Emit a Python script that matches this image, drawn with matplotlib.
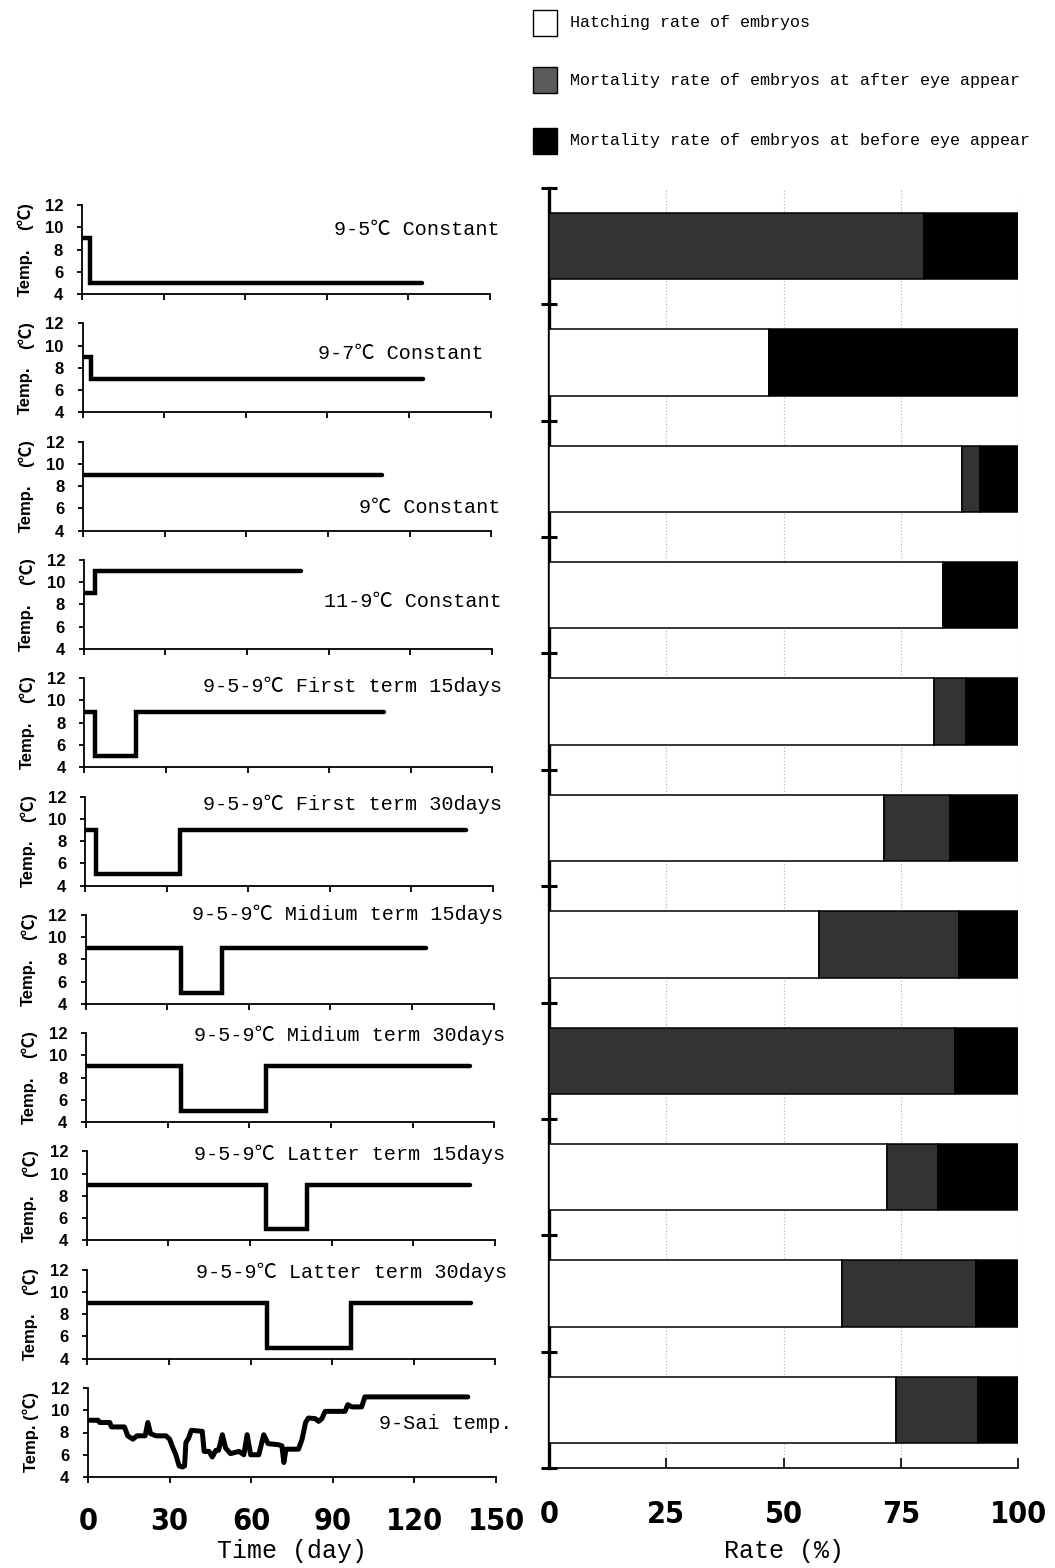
import matplotlib
matplotlib.use("Agg")
import matplotlib.pyplot as plt
from matplotlib import font_manager as fm
from matplotlib.font_manager import FontProperties
from matplotlib.patches import Rectangle

# ---------------- data ----------------
panel_titles = ["9-5℃ Constant", "9-7℃ Constant", "9℃ Constant", "11-9℃ Constant",
                "9-5-9℃ First term 15days", "9-5-9℃ First term 30days",
                "9-5-9℃ Midium term 15days", "9-5-9℃ Midium term 30days",
                "9-5-9℃ Latter term 15days", "9-5-9℃ Latter term 30days",
                "9-Sai temp."]

# step schedules: day where each level starts (last value = end day), temperature levels
step_days = [
    [0, 3, 125],
    [0, 3, 125],
    [0, 110],
    [0, 4, 80],
    [0, 4, 19, 110],
    [0, 4, 35, 140],
    [0, 35, 50, 125],
    [0, 35, 66, 141],
    [0, 66, 81, 141],
    [0, 66, 97, 141],
]
step_temps = [
    [9, 5, 5],
    [9, 7, 7],
    [9, 9],
    [9, 11, 11],
    [9, 5, 9, 9],
    [9, 5, 9, 9],
    [9, 5, 9, 9],
    [9, 5, 9, 9],
    [9, 5, 9, 9],
    [9, 5, 9, 9],
]

# natural (Sai) temperature record
sai_day = [0, 3.7, 4.3, 8, 8.6, 13.4, 14.6, 16.5, 18, 21, 22, 23, 25, 28.7, 30, 31, 32.3,
           33.5, 34.8, 35.5, 36, 37, 38, 42, 42.7, 44.5, 45.7, 47, 48, 49.4, 50.6, 52.4, 55.5,
           57.3, 58.5, 59.8, 62.8, 64.6, 66.2, 70, 71.3, 72, 72.8, 77.4, 78.7, 80, 81, 83.5,
           84.8, 86, 87.2, 94.5, 95.5, 97, 100.6, 101.8, 139.6]
sai_temp = [9.1, 9.1, 8.9, 8.9, 8.5, 8.5, 7.7, 7.4, 7.7, 7.7, 8.9, 7.9, 7.7, 7.7, 7.4, 6.75, 6.0,
            5.0, 4.9, 5.0, 7.1, 7.5, 8.2, 8.1, 6.3, 6.3, 5.8, 6.4, 6.4, 7.8, 6.6, 6.1, 6.3,
            6.0, 7.8, 6.0, 6.0, 7.8, 7.0, 6.9, 6.8, 5.3, 6.5, 6.5, 7.4, 8.9, 9.3, 9.25,
            9.0, 9.25, 9.9, 9.9, 10.5, 10.3, 10.3, 11.2, 11.2]

# rates (%)
hatching = [0, 47, 88, 84, 82, 71.5, 57.5, 0, 72, 62.5, 74]
mort_after = [80, 0, 4, 0, 7, 14, 30, 86.5, 11, 28.5, 17.5]
mort_before = [20, 53, 8, 16, 11, 14.5, 12.5, 13.5, 17, 9, 8.5]

legend_labels = ["Hatching rate of embryos",
                 "Mortality rate of embryos at after eye appear",
                 "Mortality rate of embryos at before eye appear"]

temp_ticks = [4, 6, 8, 10, 12]
day_ticks = [0, 30, 60, 90, 120, 150]
rate_ticks = [0, 25, 50, 75, 100]

# label positions (pixel right edge, temp) for panel titles
title_pos_px = [(500, 9.84), (484, 9.33), (500, 6.12), (502, 8.22), (502, 11.3), (502, 11.3),
                (503, 12.0), (505, 11.8), (505, 11.7), (507, 11.8), (512, 8.85)]

# ---------------- fonts ----------------
names = {f.name for f in fm.fontManager.ttflist}
SANS = "Liberation Sans" if "Liberation Sans" in names else "DejaVu Sans"
MONO = "Liberation Mono" if "Liberation Mono" in names else "DejaVu Sans Mono"
CJK = "Noto Sans CJK JP"
FAM_MONO = [MONO, CJK, "DejaVu Sans"]
FAM_SANS = [SANS, CJK, "DejaVu Sans"]


def find_condensed_bold():
    cands = []
    for f in fm.fontManager.ttflist:
        nm = (f.name + " " + f.fname).lower()
        cond = (str(f.stretch).lower() in ("condensed", "semi-condensed", "extra-condensed",
                                           "ultra-condensed")
                or "narrow" in nm or "condensed" in nm)
        if not cond:
            continue
        w = f.weight if isinstance(f.weight, int) else (700 if "bold" in str(f.weight) else 400)
        if "italic" in nm or "oblique" in nm or f.style != "normal":
            continue
        cands.append((abs(w - 700), f.fname))
    cands.sort()
    return cands[0][1] if cands else None


cond_file = find_condensed_bold()
if cond_file:
    BIGNUM = FontProperties(fname=cond_file, size=22)
else:
    BIGNUM = FontProperties(family=SANS, weight="bold", size=19)

BAR_GRAY = "#333333"
LEG_GRAY = "#5a5a5a"

W, H = 1055, 1568
fig = plt.figure(figsize=(W / 100, H / 100), dpi=100)

# ---------------- left panels ----------------
PW, PH = 408, 89
for k in range(11):
    left = 82 + 0.6 * k
    top = 205 + 118.3 * k
    ax = fig.add_axes([left / W, 1 - (top + PH) / H, PW / W, PH / H])
    if k < 10:
        ax.plot(step_days[k], step_temps[k], drawstyle="steps-post", color="black",
                lw=3.2, solid_joinstyle="miter", solid_capstyle="round")
    else:
        ax.plot(sai_day, sai_temp, color="black", lw=3.6, solid_joinstyle="round",
                solid_capstyle="round")
    ax.set_xlim(0, 150)
    ax.set_ylim(4, 12)
    for s in ("top", "right"):
        ax.spines[s].set_visible(False)
    for s in ("left", "bottom"):
        ax.spines[s].set_linewidth(1.3)
    ax.set_yticks(temp_ticks)
    ax.set_xticks(day_ticks)
    ax.tick_params(axis="y", direction="out", length=3.5, width=1.3, pad=10)
    ax.tick_params(axis="x", direction="out", length=4.5, width=1.3)
    for lab in ax.get_yticklabels():
        lab.set_fontfamily(FAM_SANS)
        lab.set_fontweight("bold")
        lab.set_fontsize(12)
    if k == 10:
        ax.tick_params(axis="x", pad=17)
        ax.set_xticklabels([str(v) for v in day_ticks])
        for lab in ax.get_xticklabels():
            lab.set_fontproperties(BIGNUM)
        ax.set_xlabel("Time (day)", fontfamily=FAM_MONO, fontsize=18, labelpad=2)
        ax.text(-0.14, 0.5, "Temp. (℃)", transform=ax.transAxes, rotation=90,
                ha="center", va="center", fontfamily=FAM_SANS, fontweight="bold",
                fontsize=12)
    else:
        ax.set_xticklabels([])
        ax.text(-0.14, -0.02, "Temp.", transform=ax.transAxes, rotation=90,
                ha="center", va="bottom", fontfamily=FAM_SANS, fontweight="bold",
                fontsize=12)
        ax.text(-0.14, 1.03, "(℃)", transform=ax.transAxes, rotation=90,
                ha="center", va="top", fontfamily=FAM_SANS, fontweight="bold",
                fontsize=12)
    px, ty = title_pos_px[k]
    tx = (px - left) / PW * 150
    ax.text(tx, ty, panel_titles[k], ha="right", va="center", fontfamily=FAM_MONO,
            fontsize=14.5, clip_on=False)

# ---------------- right bar panel ----------------
axr = fig.add_axes([549 / W, 1 - 1468 / H, 469 / W, 1280 / H])
ypos = list(range(11))
bh = 0.57
left2 = [h + a for h, a in zip(hatching, mort_after)]
axr.barh(ypos, hatching, height=bh, color="white", edgecolor="black", lw=1.1, zorder=3)
axr.barh(ypos, mort_after, left=hatching, height=bh, color=BAR_GRAY, edgecolor="black",
         lw=1.1, zorder=3)
axr.barh(ypos, mort_before, left=left2, height=bh, color="black", edgecolor="black",
         lw=1.1, zorder=3)
axr.set_xlim(0, 100)
axr.set_ylim(10.5, -0.5)
axr.set_xticks(rate_ticks)
axr.set_xticklabels([str(v) for v in rate_ticks])
for lab in axr.get_xticklabels():
    lab.set_fontproperties(BIGNUM)
axr.tick_params(axis="x", direction="in", length=7, width=1.2, pad=23)
axr.set_yticks([i - 0.5 for i in range(12)])
axr.set_yticklabels([])
axr.tick_params(axis="y", direction="inout", length=11, width=2.2)
axr.grid(axis="x", linestyle=(0, (1, 2)), color="#b0b0b0", lw=0.8, zorder=0)
for s in ("top", "right"):
    axr.spines[s].set_visible(False)
axr.spines["left"].set_linewidth(2.4)
axr.spines["bottom"].set_linewidth(1.2)
axr.set_xlabel("Rate (%)", fontfamily=FAM_MONO, fontsize=18, labelpad=7)

# ---------------- legend ----------------
legend_colors = ["white", LEG_GRAY, "black"]
legend_y = [23, 80, 141]
for lab, c, yc in zip(legend_labels, legend_colors, legend_y):
    fig.add_artist(Rectangle((533 / W, 1 - (yc + 13) / H), 24 / W, 26 / H,
                             transform=fig.transFigure, facecolor=c, edgecolor="black",
                             lw=1.0))
    fig.text(570 / W, 1 - yc / H, lab, ha="left", va="center", fontfamily=FAM_MONO,
             fontsize=12)

fig.savefig("out.png", dpi=100)
